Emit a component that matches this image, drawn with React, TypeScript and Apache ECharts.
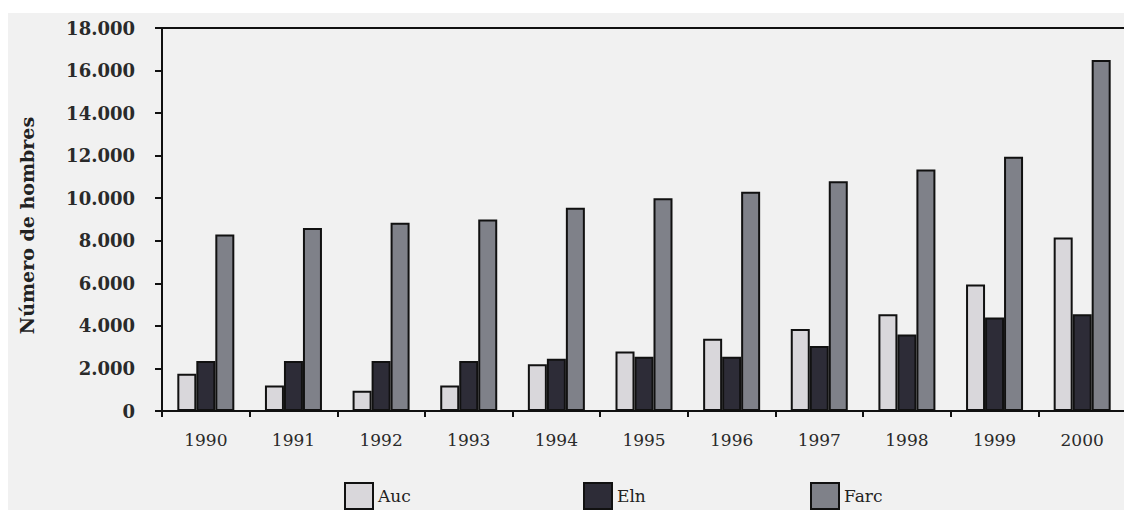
import React, { useEffect, useRef } from "react";
import * as echarts from "echarts";

const years = ["1990", "1991", "1992", "1993", "1994", "1995", "1996", "1997", "1998", "1999", "2000"];
const auc = [1750, 1200, 950, 1200, 2200, 2800, 3400, 3850, 4550, 5950, 8150];
const eln = [2350, 2350, 2350, 2350, 2450, 2550, 2550, 3050, 3600, 4400, 4550];
const farc = [8300, 8600, 8850, 9000, 9550, 10000, 10300, 10800, 11350, 11950, 16500];
const yTickLabels = ["0", "2.000", "4.000", "6.000", "8.000", "10.000", "12.000", "14.000", "16.000", "18.000"];
const seriesNames = ["Auc", "Eln", "Farc"];
const seriesColors = ["#d9d7db", "#2d2c37", "#7f8189"];

const FONT = "DejaVu Serif";

export default function App() {
  const ref = useRef<HTMLDivElement>(null);
  useEffect(() => {
    if (!ref.current) return;
    const chart = echarts.init(ref.current, null, { renderer: "svg" });
    const data = [auc, eln, farc];
    const legendLefts = [336, 575, 802];
    chart.setOption({
      animation: false,
      backgroundColor: "#f1f1f1",
      grid: {
        left: 154,
        top: 15,
        width: 964,
        height: 383,
        show: true,
        borderColor: "#111",
        borderWidth: 2,
        backgroundColor: "transparent",
        containLabel: false,
        outerBoundsMode: "none",
      },
      legend: seriesNames.map((n, i) => ({
        data: [n],
        left: legendLefts[i],
        top: 469,
        padding: 0,
        icon: "rect",
        itemWidth: 28,
        itemHeight: 26,
        itemStyle: { borderColor: "#111", borderWidth: 2 },
        textStyle: { fontFamily: FONT, fontSize: 17, color: "#222" },
      })),
      xAxis: {
        type: "category",
        data: years,
        boundaryGap: true,
        axisLine: { show: true, lineStyle: { color: "#111", width: 2 } },
        axisTick: { show: true, alignWithLabel: false, length: 6, lineStyle: { color: "#111", width: 2 } },
        axisLabel: { fontFamily: FONT, fontSize: 17, color: "#2a2a2a", margin: 20 },
        splitLine: { show: false },
      },
      yAxis: {
        type: "value",
        min: 0,
        max: 18000,
        interval: 2000,
        name: "Número de hombres",
        nameLocation: "middle",
        nameGap: 126,
        nameTextStyle: {
          fontFamily: FONT,
          fontSize: 19,
          fontWeight: "bold",
          color: "#222",
          padding: [0, 12, 0, 0],
        },
        axisLine: { show: true, lineStyle: { color: "#111", width: 2 } },
        axisTick: { show: true, length: 7, lineStyle: { color: "#111", width: 2 } },
        axisLabel: {
          fontFamily: FONT,
          fontSize: 18,
          fontWeight: "bold",
          color: "#2a2a2a",
          margin: 27,
          padding: [8, 0, 0, 0],
          formatter: (v: number) => yTickLabels[Math.round(v / 2000)],
        },
        splitLine: { show: false },
      },
      series: seriesNames.map((n, i) => ({
        name: n,
        type: "bar",
        data: data[i],
        barWidth: 19,
        barGap: "0%",
        itemStyle: { color: seriesColors[i], borderColor: "#111", borderWidth: 2 },
      })),
    });
    return () => chart.dispose();
  }, []);
  return (
    <div
      ref={ref}
      style={{ position: "fixed", left: 8, top: 13, width: 1116, height: 497, background: "#f1f1f1" }}
    />
  );
}
